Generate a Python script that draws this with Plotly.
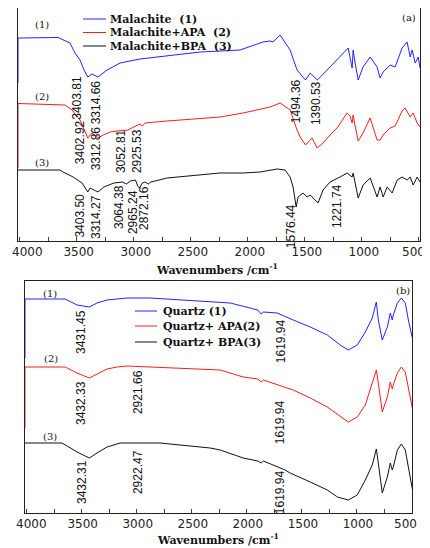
import plotly.graph_objects as go

# ---------------- DATA ----------------
# Panel (a): malachite spectra (wavenumber cm-1, transmittance a.u., offset)
wn_mal = [4015, 4015, 3664, 3559, 3515, 3471, 3436, 3403, 3366, 3314, 3234, 3120, 2945, 2708,
          2418, 2068, 1866, 1804, 1778, 1717, 1629, 1568, 1494, 1453, 1390, 1304, 1208, 1120,
          1085, 1076, 1059, 1032, 989, 927, 866, 840, 813, 778, 752, 708, 647, 603, 576, 559,
          532, 506, 490]
t_mal = [158, 203, 203.5, 198, 188, 181, 171, 164, 167, 164, 171, 178, 182, 185,
         189, 191, 199, 200, 199, 206, 191, 171, 161, 168, 161, 171, 183, 193,
         173, 191, 178, 161, 174, 184, 174, 163, 169, 173, 176, 174, 193, 199, 184, 191,
         178, 184, 173]

wn_mal_apa = [4015, 4015, 3603, 3541, 3471, 3436, 3403, 3366, 3313, 3268, 3207, 3147, 3052,
              3000, 2945, 2925, 2900, 2708, 2243, 2041, 1804, 1717, 1629, 1568, 1541, 1494,
              1436, 1392, 1340, 1279, 1217, 1129, 1103, 1085, 1076, 1059, 1032, 989, 927,
              866, 840, 813, 778, 752, 708, 647, 620, 576, 550, 515, 490]
t_mal_apa = [73, 137.5, 136, 131, 121, 111, 103, 108, 103, 106, 109, 110, 111,
             114, 117, 115, 118, 120, 124, 128, 134, 138, 131, 111, 104, 96,
             103, 93, 98, 106, 113, 128, 125, 118, 126, 115, 100, 108, 123,
             101, 101, 106, 110, 113, 115, 130, 133, 124, 128, 118, 114]

wn_mal_bpa = [4015, 3647, 3620, 3532, 3453, 3403, 3383, 3314, 3262, 3174, 3100, 3064, 3030,
              2985, 2965, 2950, 2925, 2900, 2872, 2850, 2708, 2243, 2041, 1892, 1743, 1673,
              1629, 1603, 1585, 1576, 1559, 1515, 1480, 1453, 1427, 1384, 1340, 1279, 1191,
              1129, 1085, 1076, 1032, 989, 927, 866, 840, 813, 778, 734, 690, 647, 603, 576,
              550, 515, 490]
t_mal_bpa = [71, 71, 69, 64, 58, 49, 53, 49, 54, 58, 59, 57, 60,
             61, 55, 53, 58, 59, 57, 59, 63, 68, 68, 69, 72, 71,
             64, 54, 41, 34, 44, 48, 44, 46, 43, 38, 51, 59, 64,
             68, 64, 68, 43, 56, 63, 44, 54, 44, 54, 48, 61, 64, 61, 64,
             56, 64, 59]

# Panel (b): quartz spectra
wn_qz = [4015, 4015, 3651, 3542, 3431, 3361, 3270, 3088, 2879, 2242, 2151, 1900, 1870, 1850,
         1724, 1579, 1424, 1269, 1214, 1152, 1079, 997, 924, 861, 824, 806, 770, 724, 697,
         679, 670, 633, 597, 561, 533, 497]
t_qz = [155, 214, 214, 208, 206, 210, 213, 215, 215, 211, 210, 203, 199, 201,
        200, 193, 186, 178, 173, 168, 163, 168, 181, 195, 211, 193, 173, 186, 200,
        193, 198, 210, 215, 210, 193, 175]

wn_qz_apa = [4015, 4015, 3651, 3542, 3431, 3361, 3270, 3179, 3088, 2242, 2033, 1900, 1870,
             1850, 1579, 1424, 1269, 1079, 997, 924, 824, 806, 770, 724, 697, 679, 670,
             633, 597, 561, 533, 497]
t_qz_apa = [85, 146, 146, 140, 135, 139, 144, 146, 147, 143, 136, 134, 131,
            133, 123, 115, 106, 91, 96, 108, 143, 130, 101, 116, 131, 124, 128,
            140, 146, 141, 124, 105]

wn_qz_bpa = [4015, 3679, 3542, 3431, 3361, 3270, 3151, 2788, 2333, 2242, 2033, 1900, 1870,
             1850, 1652, 1607, 1424, 1269, 1177, 1079, 997, 924, 861, 824, 806, 770, 724,
             697, 679, 670, 633, 597, 561, 533, 497]
t_qz_bpa = [70, 70, 61, 55, 60, 66, 70, 70, 65, 63, 55, 52, 50,
            52, 43, 40, 31, 23, 16, 13, 18, 33, 48, 64, 50, 20, 36,
            50, 43, 46, 63, 69, 63, 46, 24]

names_a = ["Malachite  (1)", "Malachite+APA  (2)", "Malachite+BPA  (3)"]
names_b = ["Quartz (1)", "Quartz+ APA(2)", "Quartz+ BPA(3)"]
xtick_inner = [3500, 3000, 2500, 2000, 1500, 1000]   # labelled by the axis
xtick_edge = ["4000", "500"]                         # edge labels, nudged inward

peaks_a = ["3403.81", "3314.66", "1494.36", "1390.53",
           "3402.92", "3312.86", "3052.81", "2925.53",
           "3403.50", "3314.27", "3064.38", "2965.24", "2872.16", "1576.44", "1221.74"]
peaks_b = ["3431.45", "1619.94", "3432.33", "2921.66", "1619.94", "3432.31", "2922.47", "1619.94"]

# ---------------- LAYOUT HELPERS ----------------
# the page body adds an 8px margin, so the figure is 8px smaller and all
# window-pixel positions are shifted by 8px
OFF = 8
W, H = 430 - OFF, 548 - OFF
def px(x):
    return (x - OFF) / W
def py(y):
    return 1 - (y - OFF) / H

BLUE, RED, BLACK = "#2323ff", "#ff1a1a", "#111111"
colors = [BLUE, RED, BLACK]

fig = go.Figure()
for wn, t, c, n in zip([wn_mal, wn_mal_apa, wn_mal_bpa], [t_mal, t_mal_apa, t_mal_bpa], colors, names_a):
    fig.add_trace(go.Scatter(x=wn, y=t, mode="lines", line=dict(color=c, width=1),
                             name=n, showlegend=False, xaxis="x", yaxis="y"))
for wn, t, c, n in zip([wn_qz, wn_qz_apa, wn_qz_bpa], [t_qz, t_qz_apa, t_qz_bpa], colors, names_b):
    fig.add_trace(go.Scatter(x=wn, y=t, mode="lines", line=dict(color=c, width=1),
                             name=n, showlegend=False, xaxis="x2", yaxis="y2"))

tickfont = dict(family="DejaVu Sans", size=12, color="#222")
def xax(domain, rng, anchor, shift):
    return dict(domain=domain, range=rng, anchor=anchor, showline=True, linecolor="#222",
                linewidth=1, mirror=True, ticks="inside", ticklen=4, tickcolor="#444",
                tickmode="array", tickvals=xtick_inner, showgrid=False, zeroline=False,
                minor=dict(ticks="inside", ticklen=4, dtick=250, tick0=0, tickcolor="#444"),
                tickfont=tickfont, layer="below traces", automargin=False,
                ticklabeloverflow="allow", ticklabelshift=shift)
def yax(domain, rng, anchor):
    return dict(domain=domain, range=rng, anchor=anchor, showline=True, linecolor="#222",
                linewidth=1, mirror=True, ticks="", showticklabels=False, showgrid=False,
                zeroline=False, layer="below traces", automargin=False)

fig.update_layout(
    width=W, height=H, autosize=False,
    margin=dict(l=0, r=0, t=0, b=0, autoexpand=False),
    paper_bgcolor="white", plot_bgcolor="white",
    xaxis=xax([px(18), px(420)], [4015, 490], "y", -2),
    yaxis=yax([py(241), py(8)], [0, 233], "x"),
    xaxis2=xax([px(25), px(412)], [4015, 500], "y2", -1),
    yaxis2=yax([py(513), py(281)], [0, 232], "x2"),
    showlegend=False,
)

ann = []
# edge tick labels
for txt, (x, y) in zip(xtick_edge * 2, [(27, 252), (413, 252), (31, 524), (405, 524)]):
    ann.append(dict(x=px(x), y=py(y), xref="paper", yref="paper", text=txt, showarrow=False,
                    xanchor="center", yanchor="middle", font=tickfont, borderpad=0))

peakfont = dict(family="Liberation Sans Narrow, Arial Narrow, Liberation Sans", size=12, color="#111")
# positions of peak labels (wavenumber, transmittance) -- layout only
pos_a = [(3500, 143), (3328, 139), (1576, 140), (1401, 138),
         (3470, 99), (3328, 93), (3111, 90), (2971, 90),
         (3475, 25), (3331, 24), (3129, 34), (3006, 29), (2910, 33), (1620, 15), (1217, 35)]
pos_b = [(3506, 181), (1688, 172), (3506, 110), (2988, 121), (1697, 91),
         (3497, 31), (2988, 41), (1697, 21)]
for txt, (x, y) in zip(peaks_a, pos_a):
    ann.append(dict(x=x, y=y, xref="x", yref="y", text=txt, showarrow=False, textangle=-90,
                    xanchor="center", yanchor="middle", font=peakfont))
for txt, (x, y) in zip(peaks_b, pos_b):
    ann.append(dict(x=x, y=y, xref="x2", yref="y2", text=txt, showarrow=False, textangle=-90,
                    xanchor="center", yanchor="middle", font=peakfont))

labfont = dict(family="DejaVu Serif", size=10, color="#111")
for txt, (x, y) in zip(["(1)", "(2)", "(3)", "(a)", "(1)", "(2)", "(3)", "(b)"],
                       [(42, 25), (42, 97), (42, 163), (409, 17), (50, 293), (51, 358), (50, 436), (403, 290)]):
    ann.append(dict(x=px(x), y=py(y), xref="paper", yref="paper", text=txt, showarrow=False,
                    xanchor="center", yanchor="middle", font=labfont))

titlefont = dict(family="DejaVu Serif", size=11, color="#111", weight="bold")
for (x, y) in [(217, 269), (218, 539)]:
    ann.append(dict(x=px(x), y=py(y), xref="paper", yref="paper", text="Wavenumbers /cm<sup>-1</sup>",
                    showarrow=False, xanchor="center", yanchor="middle", font=titlefont, borderpad=0))

# manual legends
legfont = dict(family="DejaVu Serif", size=11, color="#111", weight="bold")
shapes = []
for names, (x0, x1, xt), ys in [(names_a, (83, 106, 108), (19, 32.5, 46)),
                                (names_b, (135, 157, 161), (311, 326, 342))]:
    for n, c, y in zip(names, colors, ys):
        shapes.append(dict(type="line", xref="paper", yref="paper", x0=px(x0), x1=px(x1),
                           y0=py(y), y1=py(y), line=dict(color=c, width=1)))
        ann.append(dict(x=px(xt), y=py(y), xref="paper", yref="paper", text=n, showarrow=False,
                        xanchor="left", yanchor="middle", font=legfont))

fig.update_layout(annotations=ann, shapes=shapes)
fig.write_html("out.html")
